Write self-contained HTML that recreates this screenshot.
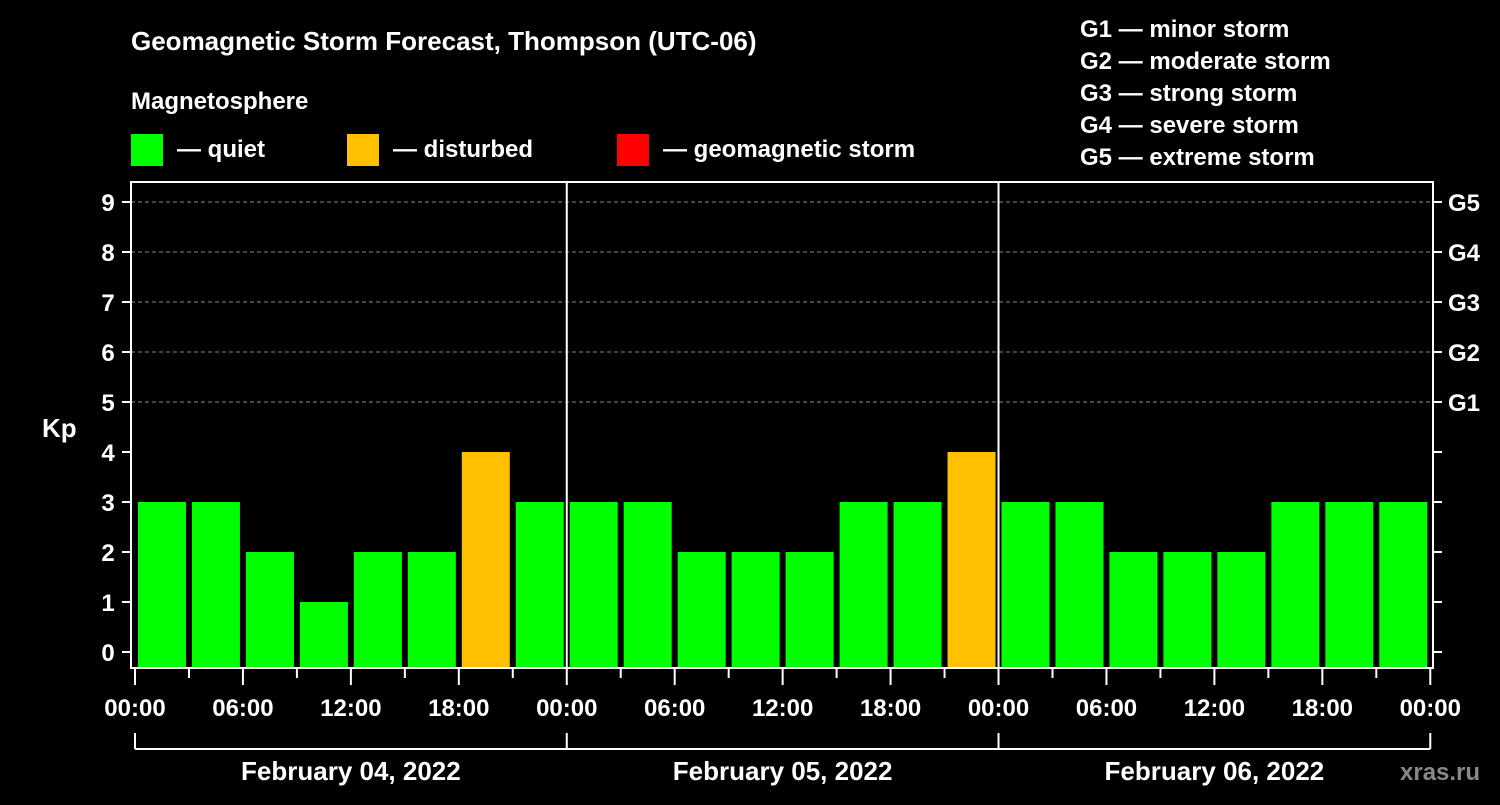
<!DOCTYPE html>
<html><head><meta charset="utf-8"><style>
html,body{margin:0;background:#000;}
svg text{font-family:"Liberation Sans",sans-serif;font-weight:bold;fill:#fff;}
</style></head><body>
<svg width="1500" height="800" xmlns="http://www.w3.org/2000/svg">
<rect width="1500" height="800" fill="#000"/>
<text x="131" y="50" font-size="26">Geomagnetic Storm Forecast, Thompson (UTC-06)</text>
<text x="131" y="109" font-size="24">Magnetosphere</text>
<g><rect x="131" y="134" width="32" height="32" fill="#00ff00"/><text x="177" y="157" font-size="24">— quiet</text></g>
<g><rect x="347" y="134" width="32" height="32" fill="#ffc000"/><text x="393" y="157" font-size="24">— disturbed</text></g>
<g><rect x="617" y="134" width="32" height="32" fill="#ff0000"/><text x="663" y="157" font-size="24">— geomagnetic storm</text></g>
<g font-size="24">
<text x="1080" y="37">G1 — minor storm</text><text x="1080" y="69">G2 — moderate storm</text><text x="1080" y="101">G3 — strong storm</text><text x="1080" y="133">G4 — severe storm</text><text x="1080" y="165">G5 — extreme storm</text>
</g>
<g id="grid"></g><g id="bars"></g><g id="axes"></g>
<text x="42" y="437" font-size="26">Kp</text>
<text x="1400" y="780" font-size="24" fill="#888" style="fill:#888">xras.ru</text>
</svg>
<script>
const kpValues=[3,3,2,1,2,2,4,3, 3,3,2,2,2,3,3,4, 3,3,2,2,2,3,3,3];
const yTicks=[0,1,2,3,4,5,6,7,8,9];
const gLabels=["G1","G2","G3","G4","G5"];
const gLevels=[5,6,7,8,9];
const xLabels=["00:00","06:00","12:00","18:00","00:00","06:00","12:00","18:00","00:00","06:00","12:00","18:00","00:00"];
const dayLabels=["February 04, 2022","February 05, 2022","February 06, 2022"];
const NS="http://www.w3.org/2000/svg";
const X=h=>135+h*17.99, Y=v=>652-v*50;
function mk(p,t,a){const e=document.createElementNS(NS,t);for(const k in a)e.setAttribute(k,a[k]);p.appendChild(e);return e;}
const grid=document.getElementById('grid'),bars=document.getElementById('bars'),axes=document.getElementById('axes');
gLevels.forEach(v=>{const l=mk(grid,'line',{x1:131,x2:1433,y1:Y(v),y2:Y(v),stroke:'#888','stroke-dasharray':'4,3','stroke-width':1});

});
kpValues.forEach((v,i)=>{const c=v>=5?'#ff0000':(v>=4?'#ffc000':'#00ff00');
const r=mk(bars,'rect',{x:X(i*3+1.5)-24,y:Y(v),width:48,height:668-Y(v),fill:c});

});
mk(axes,'rect',{x:131,y:182,width:1302,height:486,fill:'none',stroke:'#fff','stroke-width':2});
[1,2].forEach(d=>mk(axes,'line',{x1:X(d*24),x2:X(d*24),y1:182,y2:668,stroke:'#fff','stroke-width':2}));
yTicks.forEach(v=>{mk(axes,'line',{x1:122,x2:131,y1:Y(v),y2:Y(v),stroke:'#fff','stroke-width':2});
mk(axes,'line',{x1:1433,x2:1442,y1:Y(v),y2:Y(v),stroke:'#fff','stroke-width':2});
const t=mk(axes,'text',{x:108,y:Y(v)+9,'font-size':24,'text-anchor':'middle'});t.textContent=v;

});
gLabels.forEach((g,i)=>{const t=mk(axes,'text',{x:1448,y:Y(gLevels[i])+9,'font-size':24});t.textContent=g;

});
for(let h=0;h<=72;h+=3){const maj=h%6==0;mk(axes,'line',{x1:X(h),x2:X(h),y1:668,y2:maj?685:678,stroke:'#fff','stroke-width':2});}
xLabels.forEach((s,i)=>{const t=mk(axes,'text',{x:X(i*6),y:716,'font-size':24,'text-anchor':'middle'});t.textContent=s;

});
mk(axes,'line',{x1:X(0),x2:X(72),y1:749,y2:749,stroke:'#fff','stroke-width':2});
[0,1,2,3].forEach(d=>mk(axes,'line',{x1:X(d*24),x2:X(d*24),y1:733,y2:749,stroke:'#fff','stroke-width':2}));
dayLabels.forEach((s,i)=>{const t=mk(axes,'text',{x:X(i*24+12),y:780,'font-size':26,'text-anchor':'middle'});t.textContent=s;

});
</script>
</body></html>
